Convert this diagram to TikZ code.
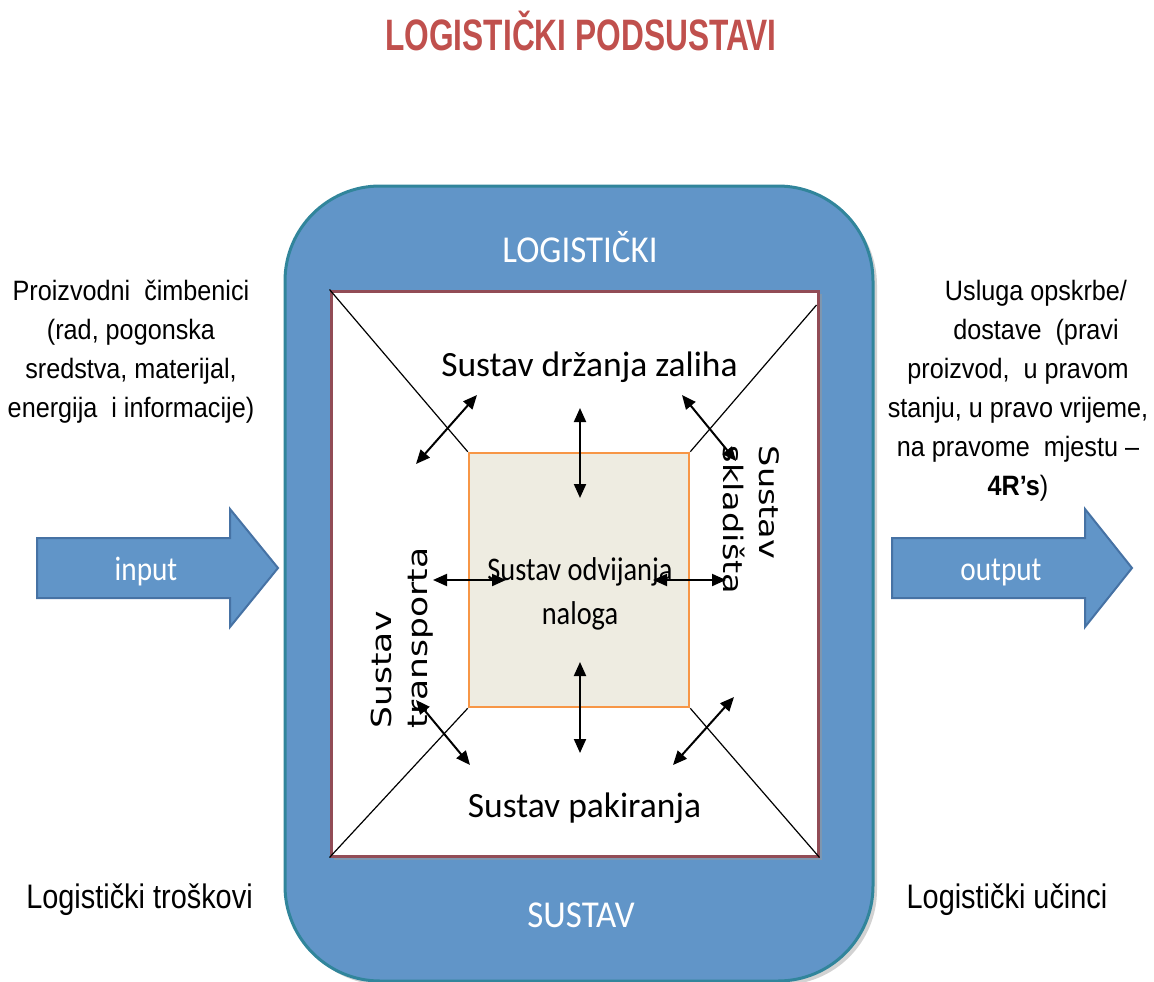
\documentclass[tikz,border=0pt]{standalone}
\usepackage{graphicx}
\usepackage{fontspec}
\setmainfont{Liberation Sans}
\newfontfamily\arialN[FakeStretch=0.9]{Liberation Sans}
\newfontfamily\arialL[FakeStretch=0.85]{Liberation Sans}
\newfontfamily\titleF[FakeStretch=0.72]{Liberation Sans}
\newfontfamily\calF{Carlito}
\newfontfamily\calN[FakeStretch=0.86]{Carlito}
\newfontfamily\calM[FakeStretch=0.92]{Carlito}
\newfontfamily\dvF{DejaVu Sans}
\usetikzlibrary{arrows.meta}
\definecolor{boxblue}{RGB}{97,149,200}
\definecolor{boxteal}{RGB}{49,133,155}
\definecolor{framered}{RGB}{146,76,86}
\definecolor{corefill}{RGB}{238,236,225}
\definecolor{coreline}{RGB}{247,150,70}
\definecolor{arrline}{RGB}{70,114,164}
\definecolor{titlered}{RGB}{192,80,77}
\tikzset{
  dbl/.style={{Triangle[length=14pt,width=12pt]}-{Triangle[length=14pt,width=12pt]}, line width=2pt, black},
  blockarrow/.style={fill=boxblue, draw=arrline, line width=2pt, line join=miter},
  sidetext/.style={font=\arialN\fontsize{28}{39}\selectfont, inner sep=0, anchor=base},
  costtext/.style={font=\arialL\fontsize{34}{40}\selectfont, inner sep=0, anchor=base},
  whitecap/.style={font=\calM\fontsize{38}{44}\selectfont, text=white, inner sep=0, anchor=base},
  subtext/.style={font=\calF\fontsize{35.5}{42}\selectfont, inner sep=0, anchor=base},
  rottext/.style={inner sep=0},
  arrowtext/.style={font=\calN\fontsize{34}{40}\selectfont, text=white, inner sep=0, anchor=base},
  diag/.style={line width=1.2pt, black}
}
\begin{document}
\begin{tikzpicture}[x=1pt,y=-1pt]
\useasboundingbox (0,0) rectangle (1154,982);
% title
\node[font=\titleF\bfseries\fontsize{44}{50}\selectfont, text=titlered, inner sep=0, anchor=base] (title) at (581,51) {LOGISTIČKI PODSUSTAVI};
% outer system box
\fill[black!35, opacity=0.5, rounded corners=95pt] (289,190) rectangle (877,985);
\node[draw=boxteal, fill=boxblue, line width=3pt, rounded corners=95pt, minimum width=588pt, minimum height=795pt, inner sep=0] (sys) at (579,583.5) {};
\node[whitecap] (logl) at (580,262) {LOGISTIČKI};
\node[whitecap] (sust) at (581,927) {SUSTAV};
% inner frame
\fill[black!40, opacity=0.5] (334,294) rectangle (822,860);
\node[draw=framered, fill=white, line width=3pt, minimum width=487pt, minimum height=565pt, inner sep=0] (inner) at (574.5,573.5) {};
% core box
\node[draw=coreline, fill=corefill, line width=2.5pt, minimum width=220pt, minimum height=254pt, inner sep=0] (core) at (579,580) {};
\coordinate (trc) at (816.5,305);
\draw[diag] (inner.north west) -- (core.north west);
\draw[diag] (trc) -- (core.north east);
\draw[diag] (inner.south west) -- (core.south west);
\draw[diag] (inner.south east) -- (core.south east);
% texts
\node[subtext] (zal) at (589.5,376) {Sustav držanja zaliha};
\node[subtext] (pak) at (584.5,817) {Sustav pakiranja};
\node[font=\calN\fontsize{33}{44}\selectfont, inner sep=0, anchor=base] (nal) at (580,580)
  {\begin{tabular}[t]{@{}c@{}}Sustav odvijanja\\naloga\end{tabular}};
\node[rottext, rotate=90] (trans) at (402,638)
  {\scalebox{1}[0.8]{\dvF\fontsize{34.5}{45}\selectfont\begin{tabular}{@{}l@{}}Sustav\\transporta\end{tabular}}};
\node[rottext, rotate=-90] (sklad) at (749,520)
  {\scalebox{1}[0.8]{\dvF\fontsize{33.5}{45}\selectfont\begin{tabular}{@{}l@{}}Sustav\\skladišta\end{tabular}}};
% double arrows
\coordinate (a1s) at (416,464); \coordinate (a1e) at (477,395);
\coordinate (a2s) at (580,408); \coordinate (a2e) at (580,498);
\coordinate (a3s) at (682,395); \coordinate (a3e) at (736,461);
\coordinate (a4s) at (433,580); \coordinate (a4e) at (506,580);
\coordinate (a5s) at (653,580); \coordinate (a5e) at (726,580);
\coordinate (a6s) at (580,662); \coordinate (a6e) at (580,753);
\coordinate (a7s) at (416,700); \coordinate (a7e) at (470,765);
\coordinate (a8s) at (734,697); \coordinate (a8e) at (673,765);
\foreach \i in {1,...,8} { \draw[dbl] (a\i s) -- (a\i e); }
% input / output block arrows
\draw[blockarrow] (37,538) -- (230,538) -- (230,509) -- (278,568) -- (230,627) -- (230,598) -- (37,598) -- cycle;
\node[arrowtext] (inp) at (146,580) {input};
\draw[blockarrow] (892,538) -- (1085,538) -- (1085,509) -- (1132,568) -- (1085,627) -- (1085,598) -- (892,598) -- cycle;
\node[arrowtext] (outp) at (1001,580) {output};
% side texts
\node[sidetext] (factors) at (131,300) {\begin{tabular}[t]{@{}c@{}}Proizvodni\ \ čimbenici\\(rad, pogonska\\sredstva, materijal,\\energija\ \ i informacije)\end{tabular}};
\node[sidetext] (service) at (1018,300) {\begin{tabular}[t]{@{}c@{}}\hspace*{36pt}Usluga opskrbe/\\\hspace*{36pt}dostave\ \ (pravi\\proizvod,\ \ u pravom\\stanju, u pravo vrijeme,\\na pravome\ \ mjestu –\\\textbf{4R’s})\end{tabular}};
\node[costtext] (cost) at (139.5,908) {Logistički troškovi};
\node[costtext] (eff) at (1007,908) {Logistički učinci};
\end{tikzpicture}
\end{document}
